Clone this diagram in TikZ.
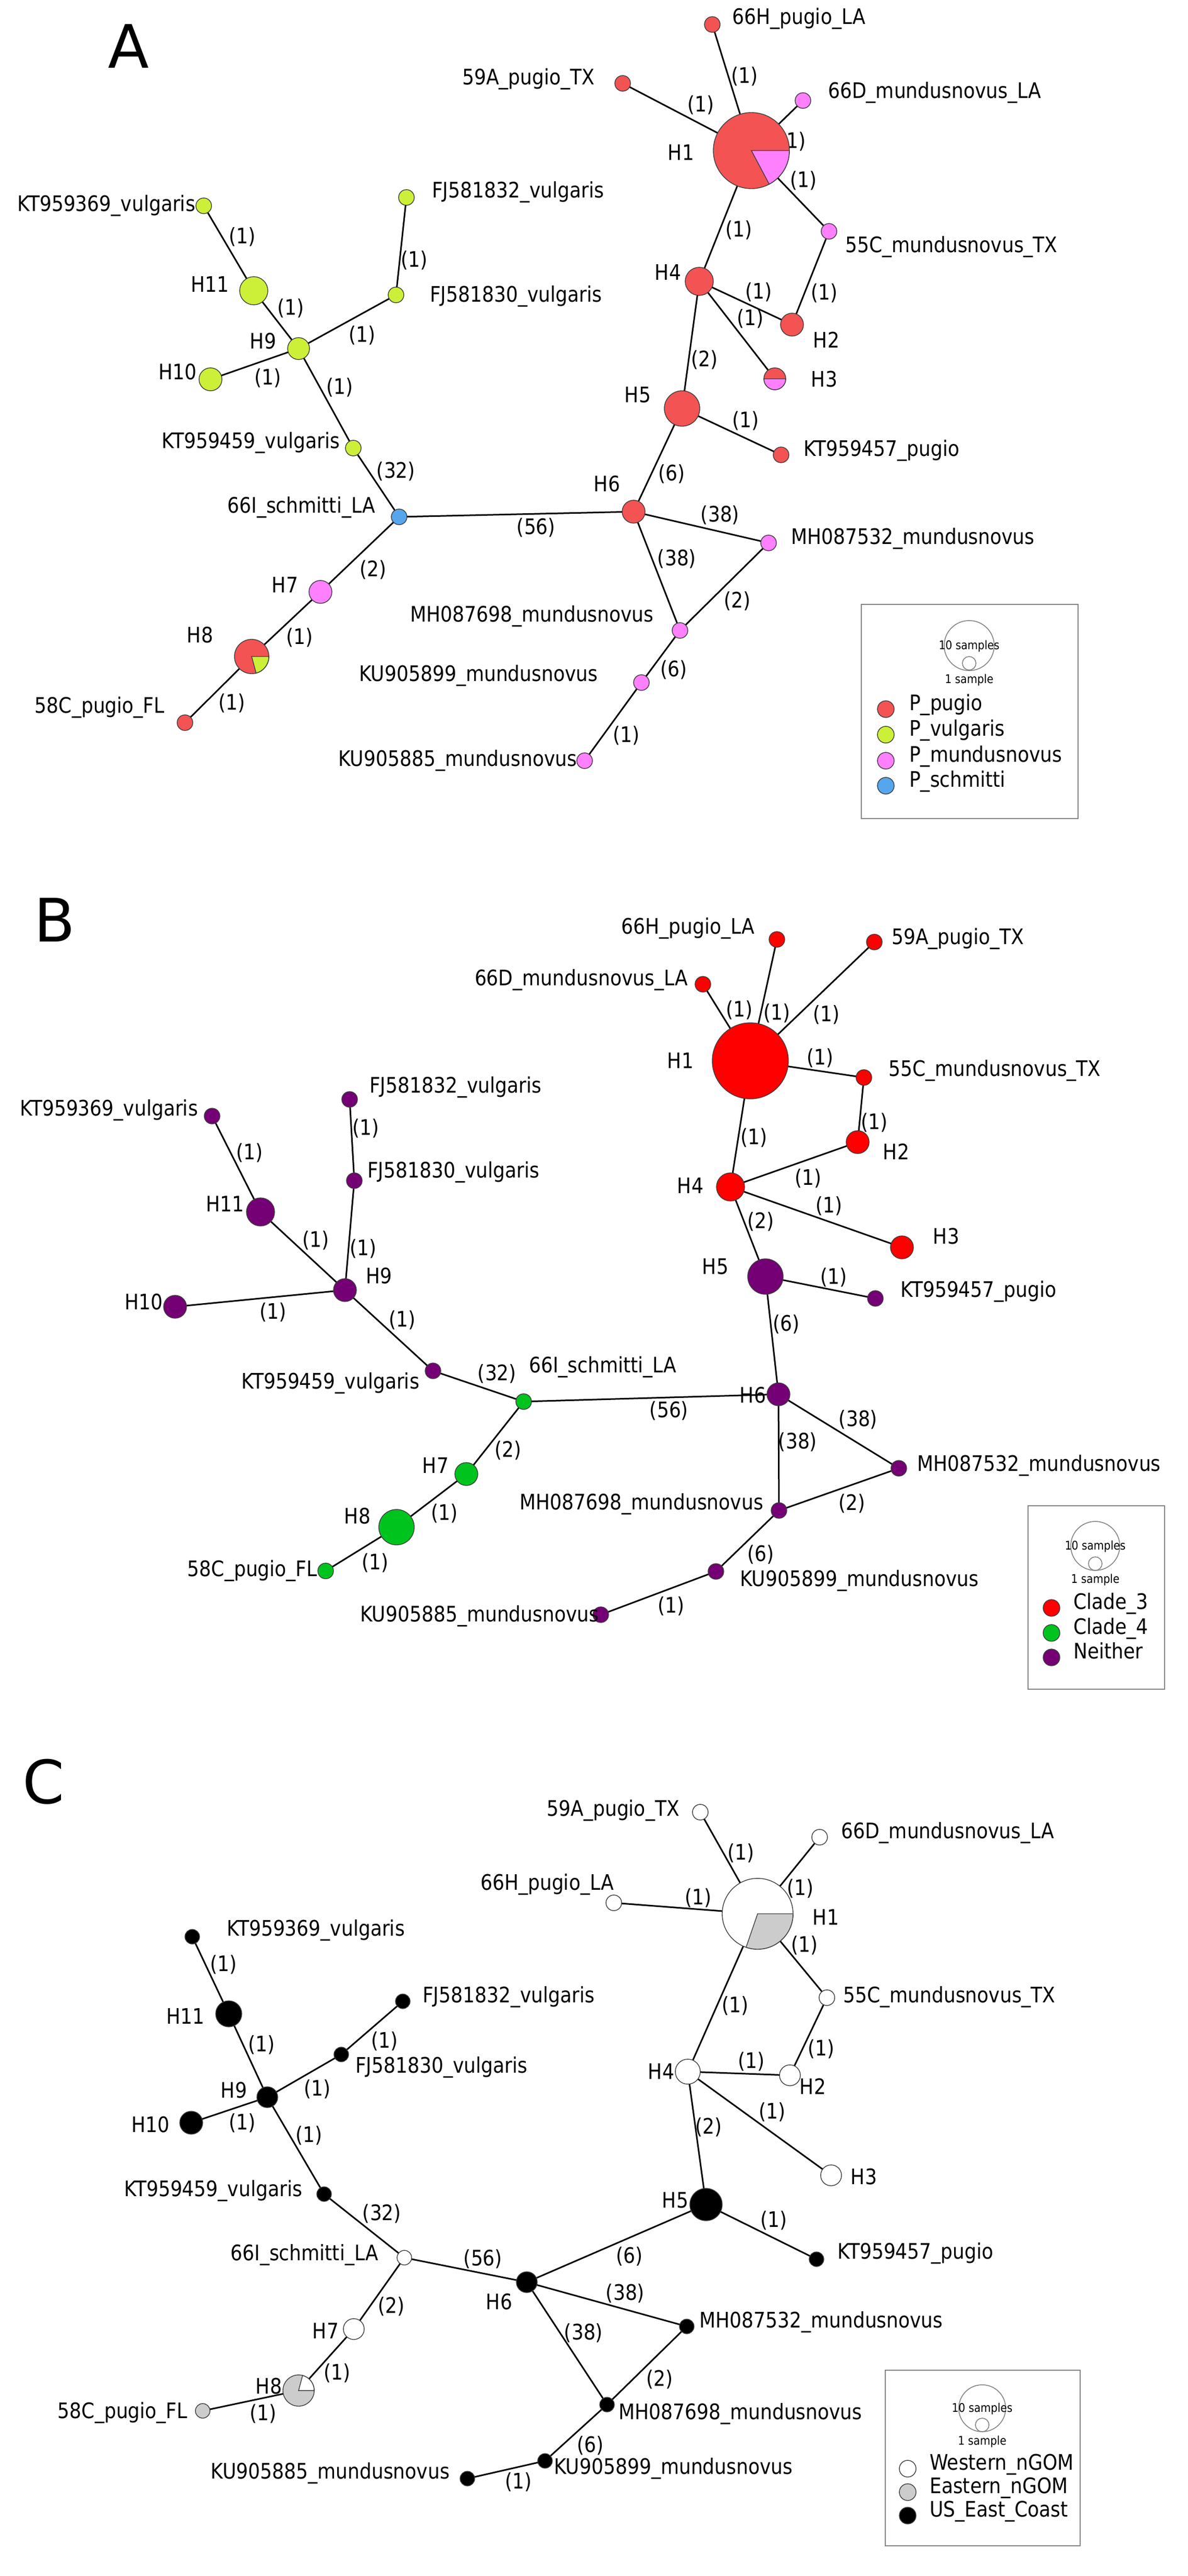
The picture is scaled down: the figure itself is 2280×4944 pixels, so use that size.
\documentclass[tikz,border=0pt]{standalone}
\usepackage{fontspec}
\newfontfamily\lblfam[FakeStretch=0.88]{DejaVu Sans}
\newfontfamily\panfam{DejaVu Sans}
\newcommand\labfont{\lblfam\fontsize{41}{41}\selectfont}
\newcommand\tinyfont{\lblfam\fontsize{23}{23}\selectfont}
\newcommand\panfont{\panfam\fontsize{115}{115}\selectfont}
\usetikzlibrary{backgrounds}
\definecolor{redA}{RGB}{243,83,83}
\definecolor{limeA}{RGB}{204,240,56}
\definecolor{pinkA}{RGB}{255,128,255}
\definecolor{blueA}{RGB}{86,166,238}
\definecolor{redB}{RGB}{255,0,0}
\definecolor{greenB}{RGB}{0,196,30}
\definecolor{purpB}{RGB}{117,0,117}
\definecolor{grayC}{RGB}{204,204,204}
\definecolor{outl}{RGB}{60,60,60}
\definecolor{legcol}{RGB}{130,130,130}
\tikzset{
  hap/.style={circle, inner sep=0pt, outer sep=0pt, draw=outl, line width=1.4pt, minimum size=#1},
  lnk/.style={line width=3pt, draw=black},
  elab/.style={font=\labfont, inner sep=0pt},
  tlab/.style={font=\labfont, inner sep=0pt},
  smlab/.style={font=\tinyfont, inner sep=0pt},
  legc/.style={circle, inner sep=0pt, draw=legcol, line width=1.6pt, minimum size=#1},
  legbox/.style={draw=legcol, line width=2pt},
  wedge/.style={draw=outl, line width=1.4pt},
  panl/.style={font=\panfont, inner sep=0pt}
}
\begin{document}
\begin{tikzpicture}[x=1pt,y=-1pt]
\useasboundingbox (0,0) rectangle (2280,4944);

% ================= PANEL A =================
\node[panl] (pA) at (247,89) {A};
\node[hap=30pt, fill=redA] (a59A) at (1195,160) {};
\node[hap=30pt, fill=redA] (a66H) at (1367,47) {};
\node[hap=30pt, fill=pinkA] (a66D) at (1541,193) {};
\node[hap=146pt, fill=redA] (aH1) at (1442,289) {};
\node[hap=30pt, fill=pinkA] (a55C) at (1591,444) {};
\node[hap=54pt, fill=redA] (aH4) at (1342,540) {};
\node[hap=44pt, fill=redA] (aH2) at (1520,623) {};
\node[hap=42pt, fill=redA] (aH3) at (1487,727) {};
\node[hap=68pt, fill=redA] (aH5) at (1309,784) {};
\node[hap=30pt, fill=redA] (aKT57) at (1499,873) {};
\node[hap=44pt, fill=redA] (aH6) at (1216,982) {};
\node[hap=30pt, fill=pinkA] (aMH32) at (1475,1042) {};
\node[hap=30pt, fill=pinkA] (aMH98) at (1305,1210) {};
\node[hap=30pt, fill=pinkA] (aKU99) at (1231,1310) {};
\node[hap=30pt, fill=pinkA] (aKU85) at (1122,1460) {};
\node[hap=30pt, fill=blueA] (a66I) at (766,992) {};
\node[hap=30pt, fill=limeA] (aKT59) at (678,860) {};
\node[hap=42pt, fill=limeA] (aH9) at (573,669) {};
\node[hap=54pt, fill=limeA] (aH11) at (487,558) {};
\node[hap=30pt, fill=limeA] (aKT69) at (391,395) {};
\node[hap=44pt, fill=limeA] (aH10) at (404,728) {};
\node[hap=30pt, fill=limeA] (aFJ30) at (760,566) {};
\node[hap=30pt, fill=limeA] (aFJ32) at (780,379) {};
\node[hap=44pt, fill=pinkA] (aH7) at (615,1136) {};
\node[hap=66pt, fill=redA] (aH8) at (483,1260) {};
\node[hap=30pt, fill=redA] (a58C) at (355,1387) {};
% pies
\filldraw[wedge, fill=pinkA] (aH1.center) -- ++(73pt,0pt) arc[start angle=0, end angle=-62, radius=73pt] -- cycle;
\filldraw[wedge, fill=limeA] (aH8.center) -- ++(33pt,0pt) arc[start angle=0, end angle=-75, radius=33pt] -- cycle;
\filldraw[wedge, fill=pinkA] ([xshift=-21pt]aH3.center) -- ([xshift=21pt]aH3.center) arc[start angle=0, end angle=-180, radius=21pt] -- cycle;
% labels
\node[tlab, anchor=mid west] (la59A) at (887,160) {59A\_pugio\_TX};
\node[tlab, anchor=mid west] (la66H) at (1405,44) {66H\_pugio\_LA};
\node[tlab, anchor=mid west] (la66D) at (1589,186) {66D\_mundusnovus\_LA};
\node[tlab] (laH1) at (1307,293) {H1};
\node[tlab, anchor=mid west] (la55C) at (1622,482) {55C\_mundusnovus\_TX};
\node[tlab] (laH4) at (1282,523) {H4};
\node[tlab] (laH2) at (1586,652) {H2};
\node[tlab] (laH3) at (1582,728) {H3};
\node[tlab] (laH5) at (1224,758) {H5};
\node[tlab, anchor=mid west] (laKT57) at (1542,873) {KT959457\_pugio};
\node[tlab] (laH6) at (1165,929) {H6};
\node[tlab, anchor=mid west] (laMH32) at (1518,1042) {MH087532\_mundusnovus};
\node[tlab, anchor=mid west] (laMH98) at (787,1191) {MH087698\_mundusnovus};
\node[tlab, anchor=mid west] (laKU99) at (689,1305) {KU905899\_mundusnovus};
\node[tlab, anchor=mid west] (laKU85) at (649,1468) {KU905885\_mundusnovus};
\node[tlab, anchor=mid east] (la66I) at (720,982) {66I\_schmitti\_LA};
\node[tlab, anchor=mid east] (laKT59) at (652,858) {KT959459\_vulgaris};
\node[tlab] (laH9) at (505,655) {H9};
\node[tlab, anchor=mid east] (laH11) at (440,558) {H11};
\node[tlab, anchor=mid east] (laKT69) at (375,403) {KT959369\_vulgaris};
\node[tlab, anchor=mid east] (laH10) at (378,726) {H10};
\node[tlab, anchor=mid west] (laFJ30) at (825,577) {FJ581830\_vulgaris};
\node[tlab, anchor=mid west] (laFJ32) at (829,377) {FJ581832\_vulgaris};
\node[tlab] (laH7) at (547,1123) {H7};
\node[tlab] (laH8) at (384,1219) {H8};
\node[tlab, anchor=mid east] (la58C) at (316,1366) {58C\_pugio\_FL};
% legend A
\draw[legbox] (1653,1160) rectangle (2069,1571);
\node[legc=96pt] (aLbig) at (1860,1239) {};
\node[legc=26pt] (aLsm) at (1860,1273) {};
\node[smlab] (aL10) at (1860,1240) {10 samples};
\node[smlab] (aL1) at (1860,1305) {1 sample};
\node[hap=32pt, fill=redA] (aLd1) at (1700,1361) {};
\node[hap=32pt, fill=limeA] (aLd2) at (1700,1410) {};
\node[hap=32pt, fill=pinkA] (aLd3) at (1700,1460) {};
\node[hap=32pt, fill=blueA] (aLd4) at (1700,1508) {};
\node[tlab, anchor=mid west] (aLt1) at (1745,1361) {P\_pugio};
\node[tlab, anchor=mid west] (aLt2) at (1745,1410) {P\_vulgaris};
\node[tlab, anchor=mid west] (aLt3) at (1745,1460) {P\_mundusnovus};
\node[tlab, anchor=mid west] (aLt4) at (1745,1508) {P\_schmitti};

% ================= PANEL B =================
\node[panl] (pB) at (105,1766) {B};
\node[hap=30pt, fill=redB] (b66D) at (1349,1889) {};
\node[hap=30pt, fill=redB] (b66H) at (1491,1803) {};
\node[hap=30pt, fill=redB] (b59A) at (1678,1808) {};
\node[hap=146pt, fill=redB] (bH1) at (1440,2036) {};
\node[hap=30pt, fill=redB] (b55C) at (1658,2068) {};
\node[hap=44pt, fill=redB] (bH2) at (1646,2192) {};
\node[hap=54pt, fill=redB] (bH4) at (1402,2278) {};
\node[hap=44pt, fill=redB] (bH3) at (1731,2394) {};
\node[hap=68pt, fill=purpB] (bH5) at (1469,2450) {};
\node[hap=30pt, fill=purpB] (bKT57) at (1680,2492) {};
\node[hap=44pt, fill=purpB] (bH6) at (1494,2676) {};
\node[hap=30pt, fill=purpB] (bMH32) at (1725,2818) {};
\node[hap=30pt, fill=purpB] (bMH98) at (1495,2899) {};
\node[hap=30pt, fill=purpB] (bKU99) at (1374,3016) {};
\node[hap=30pt, fill=purpB] (bKU85) at (1153,3099) {};
\node[hap=30pt, fill=greenB] (b66I) at (1005,2690) {};
\node[hap=30pt, fill=purpB] (bKT59) at (831,2631) {};
\node[hap=44pt, fill=purpB] (bH9) at (662,2476) {};
\node[hap=54pt, fill=purpB] (bH11) at (500,2326) {};
\node[hap=30pt, fill=purpB] (bKT69) at (407,2142) {};
\node[hap=44pt, fill=purpB] (bH10) at (336,2508) {};
\node[hap=30pt, fill=purpB] (bFJ30) at (680,2266) {};
\node[hap=30pt, fill=purpB] (bFJ32) at (671,2110) {};
\node[hap=44pt, fill=greenB] (bH7) at (895,2829) {};
\node[hap=68pt, fill=greenB] (bH8) at (761,2931) {};
\node[hap=30pt, fill=greenB] (b58C) at (625,3015) {};
% labels
\node[tlab, anchor=mid east] (lb66H) at (1448,1790) {66H\_pugio\_LA};
\node[tlab, anchor=mid west] (lb59A) at (1711,1810) {59A\_pugio\_TX};
\node[tlab, anchor=mid east] (lb66D) at (1320,1889) {66D\_mundusnovus\_LA};
\node[tlab] (lbH1) at (1306,2036) {H1};
\node[tlab, anchor=mid west] (lb55C) at (1705,2063) {55C\_mundusnovus\_TX};
\node[tlab] (lbH2) at (1720,2210) {H2};
\node[tlab] (lbH4) at (1325,2276) {H4};
\node[tlab] (lbH3) at (1816,2373) {H3};
\node[tlab] (lbH5) at (1373,2431) {H5};
\node[tlab, anchor=mid west] (lbKT57) at (1728,2487) {KT959457\_pugio};
\node[tlab] (lbH6) at (1445,2678) {H6};
\node[tlab, anchor=mid west] (lbMH32) at (1760,2821) {MH087532\_mundusnovus};
\node[tlab, anchor=mid east] (lbMH98) at (1465,2895) {MH087698\_mundusnovus};
\node[tlab, anchor=mid west] (lbKU99) at (1420,3042) {KU905899\_mundusnovus};
\node[tlab, anchor=mid west] (lbKU85) at (691,3110) {KU905885\_mundusnovus};
\node[tlab, anchor=mid west] (lb66I) at (1015,2632) {66I\_schmitti\_LA};
\node[tlab, anchor=mid west] (lbKT59) at (463,2663) {KT959459\_vulgaris};
\node[tlab, anchor=mid west] (lbH9) at (702,2461) {H9};
\node[tlab, anchor=mid east] (lbH11) at (469,2323) {H11};
\node[tlab, anchor=mid east] (lbKT69) at (380,2139) {KT959369\_vulgaris};
\node[tlab, anchor=mid east] (lbH10) at (313,2511) {H10};
\node[tlab, anchor=mid west] (lbFJ30) at (705,2258) {FJ581830\_vulgaris};
\node[tlab, anchor=mid west] (lbFJ32) at (709,2095) {FJ581832\_vulgaris};
\node[tlab] (lbH7) at (836,2813) {H7};
\node[tlab] (lbH8) at (686,2910) {H8};
\node[tlab, anchor=mid east] (lb58C) at (609,3023) {58C\_pugio\_FL};
% legend B
\draw[legbox] (1973,2890) rectangle (2235,3242);
\node[legc=94pt] (bLbig) at (2102,2967) {};
\node[legc=26pt] (bLsm) at (2102,3001) {};
\node[smlab] (bL10) at (2102,2968) {10 samples};
\node[smlab] (bL1) at (2102,3032) {1 sample};
\node[hap=32pt, fill=redB] (bLd1) at (2018,3086) {};
\node[hap=32pt, fill=greenB] (bLd2) at (2018,3134) {};
\node[hap=32pt, fill=purpB] (bLd3) at (2018,3181) {};
\node[tlab, anchor=mid west] (bLt1) at (2060,3086) {Clade\_3};
\node[tlab, anchor=mid west] (bLt2) at (2060,3134) {Clade\_4};
\node[tlab, anchor=mid west] (bLt3) at (2060,3181) {Neither};

% ================= PANEL C =================
\node[panl] (pC) at (84,3420) {C};
\node[hap=30pt, fill=white] (c59A) at (1344,3478) {};
\node[hap=30pt, fill=white] (c66D) at (1573,3526) {};
\node[hap=30pt, fill=white] (c66H) at (1178,3652) {};
\node[hap=136pt, fill=white] (cH1) at (1454,3673) {};
\node[hap=30pt, fill=white] (c55C) at (1587,3834) {};
\node[hap=48pt, fill=white] (cH4) at (1320,3976) {};
\node[hap=40pt, fill=white] (cH2) at (1516,3983) {};
\node[hap=40pt, fill=white] (cH3) at (1595,4175) {};
\node[hap=62pt, fill=black] (cH5) at (1355,4231) {};
\node[hap=28pt, fill=black] (cKT57) at (1567,4336) {};
\node[hap=40pt, fill=black] (cH6) at (1011,4380) {};
\node[hap=28pt, fill=black] (cMH32) at (1318,4465) {};
\node[hap=28pt, fill=black] (cMH98) at (1165,4615) {};
\node[hap=28pt, fill=black] (cKU99) at (1046,4723) {};
\node[hap=28pt, fill=black] (cKU85) at (897,4757) {};
\node[hap=28pt, fill=white] (c66I) at (776,4333) {};
\node[hap=28pt, fill=black] (cKT59) at (622,4211) {};
\node[hap=40pt, fill=black] (cH9) at (513,4025) {};
\node[hap=50pt, fill=black] (cH11) at (439,3865) {};
\node[hap=28pt, fill=black] (cKT69) at (369,3717) {};
\node[hap=44pt, fill=black] (cH10) at (367,4074) {};
\node[hap=28pt, fill=black] (cFJ30) at (655,3943) {};
\node[hap=28pt, fill=black] (cFJ32) at (773,3841) {};
\node[hap=40pt, fill=white] (cH7) at (679,4470) {};
\node[hap=60pt, fill=grayC] (cH8) at (573,4588) {};
\node[hap=28pt, fill=grayC] (c58C) at (389,4627) {};
% pies
\filldraw[wedge, fill=grayC] (cH1.center) -- ++(68pt,0pt) arc[start angle=0, end angle=-109, radius=68pt] -- cycle;
\filldraw[wedge, fill=white] (cH8.center) -- ++(30pt,0pt) arc[start angle=0, end angle=75, radius=30pt] -- cycle;
% labels
\node[tlab, anchor=mid east] (lc59A) at (1304,3483) {59A\_pugio\_TX};
\node[tlab, anchor=mid west] (lc66D) at (1614,3526) {66D\_mundusnovus\_LA};
\node[tlab, anchor=mid west] (lc66H) at (922,3625) {66H\_pugio\_LA};
\node[tlab] (lcH1) at (1585,3680) {H1};
\node[tlab, anchor=mid west] (lc55C) at (1618,3841) {55C\_mundusnovus\_TX};
\node[tlab] (lcH4) at (1269,3976) {H4};
\node[tlab] (lcH2) at (1560,4004) {H2};
\node[tlab] (lcH3) at (1658,4178) {H3};
\node[tlab] (lcH5) at (1296,4223) {H5};
\node[tlab, anchor=mid west] (lcKT57) at (1607,4333) {KT959457\_pugio};
\node[tlab] (lcH6) at (958,4418) {H6};
\node[tlab, anchor=mid west] (lcMH32) at (1342,4465) {MH087532\_mundusnovus};
\node[tlab, anchor=mid west] (lcMH98) at (1187,4641) {MH087698\_mundusnovus};
\node[tlab, anchor=mid west] (lcKU99) at (1063,4746) {KU905899\_mundusnovus};
\node[tlab, anchor=mid east] (lcKU85) at (863,4755) {KU905885\_mundusnovus};
\node[tlab, anchor=mid east] (lc66I) at (726,4336) {66I\_schmitti\_LA};
\node[tlab, anchor=mid east] (lcKT59) at (580,4213) {KT959459\_vulgaris};
\node[tlab] (lcH9) at (449,4012) {H9};
\node[tlab] (lcH11) at (356,3870) {H11};
\node[tlab, anchor=mid west] (lcKT69) at (435,3713) {KT959369\_vulgaris};
\node[tlab] (lcH10) at (289,4078) {H10};
\node[tlab, anchor=mid west] (lcFJ30) at (682,3976) {FJ581830\_vulgaris};
\node[tlab, anchor=mid west] (lcFJ32) at (811,3841) {FJ581832\_vulgaris};
\node[tlab] (lcH7) at (625,4473) {H7};
\node[tlab] (lcH8) at (516,4580) {H8};
\node[tlab, anchor=mid east] (lc58C) at (360,4639) {58C\_pugio\_FL};
% legend C
\draw[legbox] (1699,4549) rectangle (2073,4886);
\node[legc=90pt] (cLbig) at (1885,4622) {};
\node[legc=26pt] (cLsm) at (1885,4654) {};
\node[smlab] (cL10) at (1885,4623) {10 samples};
\node[smlab] (cL1) at (1885,4686) {1 sample};
\node[hap=32pt, fill=white] (cLd1) at (1742,4738) {};
\node[hap=32pt, fill=grayC] (cLd2) at (1742,4783) {};
\node[hap=32pt, fill=black] (cLd3) at (1742,4828) {};
\node[tlab, anchor=mid west] (cLt1) at (1784,4738) {Western\_nGOM};
\node[tlab, anchor=mid west] (cLt2) at (1784,4783) {Eastern\_nGOM};
\node[tlab, anchor=mid west] (cLt3) at (1784,4828) {US\_East\_Coast};

% ================= EDGES (behind nodes) =================
\begin{scope}[on background layer]
\fill[white] (0,0) rectangle (2280,4944);
\foreach \p in {a,b,c}{
  \foreach \u/\v in {59A/H1, 66H/H1, 66D/H1, H1/55C, H1/H4, 55C/H2, H4/H2, H4/H3, H4/H5, H5/KT57, H5/H6, H6/MH32, H6/MH98, MH98/MH32, MH98/KU99, KU99/KU85, H6/66I, 66I/KT59, KT59/H9, H9/H11, H11/KT69, H9/H10, H9/FJ30, FJ30/FJ32, 66I/H7, H7/H8, H8/58C}
    \draw[lnk] (\p\u) -- (\p\v);
}
\foreach \x/\y/\t [count=\i] in {1345/202/1, 1429/147/1, 1521/272/1, 1542/347/1, 1418/442/1, 1456/561/1, 1440/612/1, 1582/563/1, 1352/691/2, 1431/808/1, 1289/910/6, 1382/989/38, 1299/1073/38, 1415/1154/2, 1293/1286/6, 1202/1412/1, 1029/1013/56, 760/905/32, 652/744/1, 558/592/1, 465/455/1, 514/726/1, 695/644/1, 795/500/1, 716/1094/2, 575/1224/1, 445/1350/1}
  \node[elab] (aE\i) at (\x,\y) {(\t)};
\foreach \x/\y/\t [count=\i] in {1419/1939/1, 1491/1945/1, 1586/1948/1, 1574/2031/1, 1678/2155/1, 1447/2184/1, 1551/2262/1, 1591/2315/1, 1460/2345/2, 1600/2452/1, 1509/2542/6, 1284/2708/56, 1647/2725/38, 1531/2768/38, 1635/2886/2, 1460/2984/6, 1288/3083/1, 954/2637/32, 772/2534/1, 606/2381/1, 479/2213/1, 524/2519/1, 697/2397/1, 702/2166/1, 975/2784/2, 853/2905/1, 720/3000/1}
  \node[elab] (bE\i) at (\x,\y) {(\t)};
\foreach \x/\y/\t [count=\i] in {1422/3557/1, 1340/3643/1, 1536/3625/1, 1544/3734/1, 1411/3850/1, 1442/3957/1, 1576/3933/1, 1482/4054/1, 1360/4083/2, 1485/4262/1, 1208/4331/6, 1200/4402/38, 1120/4478/38, 1266/4567/2, 1133/4694/6, 995/4764/1, 927/4336/56, 733/4249/32, 593/4099/1, 502/3925/1, 429/3771/1, 465/4075/1, 609/4010/1, 738/3918/1, 751/4427/2, 647/4555/1, 505/4633/1}
  \node[elab] (cE\i) at (\x,\y) {(\t)};
\end{scope}
\end{tikzpicture}
\end{document}
